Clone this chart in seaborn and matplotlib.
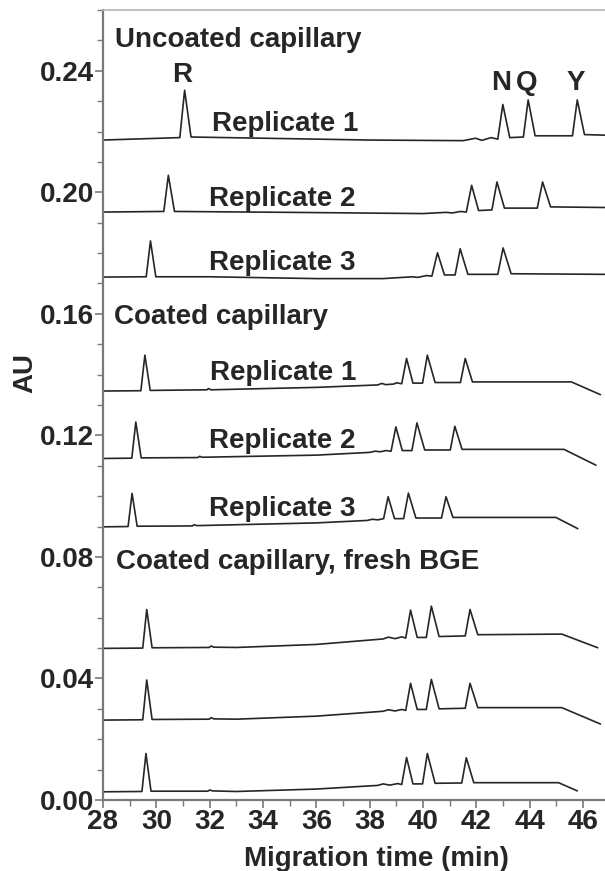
import numpy as np
import pandas as pd
import matplotlib
matplotlib.use("Agg")
import matplotlib.pyplot as plt
from matplotlib.ticker import MultipleLocator, FormatStrFormatter
import seaborn as sns

# ---------------- data ----------------
# Uncoated capillary, replicates 1-3
u1_t = [28.0, 30.88, 31.06, 31.30, 34.0, 38.0, 41.5, 41.97, 42.2, 42.55, 42.8, 42.99, 43.25, 43.76, 43.94, 44.2, 45.6, 45.78, 46.05, 46.82]
u1_v = [0.2172, 0.2180, 0.2336, 0.2182, 0.2178, 0.2172, 0.2170, 0.2178, 0.2171, 0.2180, 0.2175, 0.2289, 0.2180, 0.2182, 0.2304, 0.2186, 0.2186, 0.2304, 0.2190, 0.2188]

u2_t = [28.0, 30.28, 30.45, 30.68, 35.0, 40.0, 40.86, 41.1, 41.4, 41.62, 41.82, 42.08, 42.58, 42.77, 43.05, 44.28, 44.48, 44.78, 46.82]
u2_v = [0.1935, 0.1937, 0.2056, 0.1937, 0.1934, 0.1930, 0.1934, 0.1932, 0.1937, 0.1935, 0.2023, 0.1940, 0.1942, 0.2034, 0.1948, 0.1948, 0.2034, 0.1952, 0.1950]

u3_t = [28.0, 29.62, 29.78, 29.98, 32.0, 36.0, 38.5, 39.6, 39.8, 40.13, 40.33, 40.54, 40.8, 41.2, 41.39, 41.68, 42.8, 43.0, 43.3, 46.82]
u3_v = [0.1721, 0.1722, 0.1840, 0.1722, 0.1722, 0.1716, 0.1716, 0.1722, 0.1720, 0.1726, 0.1724, 0.1801, 0.1728, 0.1728, 0.1814, 0.1730, 0.1730, 0.1817, 0.1732, 0.1730]

# Coated capillary, replicates 1-3
c1_t = [28.0, 29.42, 29.57, 29.77, 31.9, 31.95, 32.05, 36.0, 38.3, 38.45, 38.6, 38.9, 39.0, 39.2, 39.38, 39.62, 39.98, 40.16, 40.45, 41.40, 41.58, 41.85, 45.56, 46.65]
c1_v = [0.1346, 0.1347, 0.1464, 0.1348, 0.1350, 0.1354, 0.1350, 0.1358, 0.1366, 0.1371, 0.1367, 0.1369, 0.1373, 0.1370, 0.1453, 0.1372, 0.1372, 0.1464, 0.1374, 0.1374, 0.1453, 0.1376, 0.1376, 0.1334]

c2_t = [28.0, 29.08, 29.23, 29.43, 31.55, 31.62, 31.72, 36.0, 38.0, 38.2, 38.4, 38.6, 38.8, 38.98, 39.22, 39.58, 39.77, 40.06, 41.02, 41.19, 41.46, 45.28, 46.48]
c2_v = [0.1124, 0.1125, 0.1244, 0.1126, 0.1127, 0.1131, 0.1128, 0.1135, 0.1144, 0.1148, 0.1146, 0.1150, 0.1148, 0.1228, 0.1150, 0.1150, 0.1241, 0.1152, 0.1152, 0.1230, 0.1154, 0.1154, 0.1102]

c3_t = [28.0, 28.94, 29.09, 29.28, 31.35, 31.42, 31.52, 36.0, 37.9, 38.1, 38.3, 38.52, 38.69, 38.93, 39.27, 39.45, 39.73, 40.69, 40.86, 41.12, 44.98, 45.8]
c3_v = [0.0899, 0.0900, 0.1009, 0.0901, 0.0902, 0.0906, 0.0903, 0.0912, 0.0920, 0.0924, 0.0922, 0.0926, 0.0998, 0.0926, 0.0926, 0.1010, 0.0928, 0.0928, 0.0998, 0.0930, 0.0930, 0.0893]

# Coated capillary, fresh BGE (three runs)
f1_t = [28.0, 29.49, 29.64, 29.84, 31.98, 32.06, 32.15, 33.0, 36.0, 38.5, 38.7, 38.95, 39.2, 39.35, 39.53, 39.78, 40.12, 40.31, 40.6, 41.58, 41.76, 42.05, 45.2, 46.55]
f1_v = [0.0499, 0.0500, 0.0627, 0.0501, 0.0502, 0.0507, 0.0503, 0.0502, 0.0512, 0.0530, 0.0536, 0.0531, 0.0537, 0.0533, 0.0625, 0.0535, 0.0535, 0.0638, 0.0538, 0.0540, 0.0627, 0.0544, 0.0546, 0.0501]

f2_t = [28.0, 29.49, 29.64, 29.84, 31.98, 32.06, 32.15, 33.0, 36.0, 38.5, 38.7, 38.95, 39.2, 39.35, 39.53, 39.78, 40.12, 40.31, 40.6, 41.58, 41.76, 42.05, 45.2, 46.65]
f2_v = [0.0263, 0.0264, 0.0395, 0.0265, 0.0266, 0.0271, 0.0267, 0.0266, 0.0276, 0.0292, 0.0297, 0.0293, 0.0298, 0.0295, 0.0384, 0.0298, 0.0298, 0.0397, 0.0300, 0.0302, 0.0384, 0.0304, 0.0304, 0.0250]

f3_t = [28.0, 29.46, 29.61, 29.80, 31.93, 32.0, 32.1, 33.0, 36.0, 38.3, 38.5, 38.75, 39.05, 39.2, 39.38, 39.62, 39.98, 40.16, 40.45, 41.45, 41.62, 41.9, 45.08, 45.78]
f3_v = [0.0027, 0.0028, 0.0153, 0.0029, 0.0029, 0.0033, 0.0030, 0.0028, 0.0036, 0.0048, 0.0053, 0.0049, 0.0054, 0.0051, 0.0140, 0.0053, 0.0053, 0.0153, 0.0055, 0.0056, 0.0139, 0.0057, 0.0057, 0.0030]

trace_names = ["U1", "U2", "U3", "C1", "C2", "C3", "F1", "F2", "F3"]
trace_times = [u1_t, u2_t, u3_t, c1_t, c2_t, c3_t, f1_t, f2_t, f3_t]
trace_vals = [u1_v, u2_v, u3_v, c1_v, c2_v, c3_v, f1_v, f2_v, f3_v]

# text labels
section_labels = ["Uncoated capillary", "Coated capillary", "Coated capillary, fresh BGE"]
section_x = [28.45, 28.40, 28.48]
section_y = [0.2478, 0.1568, 0.0759]

rep_labels = ["Replicate 1", "Replicate 2", "Replicate 3",
              "Replicate 1", "Replicate 2", "Replicate 3"]
rep_x = [32.07, 31.96, 31.96, 32.02, 31.97, 31.97]
rep_y = [0.2201, 0.1954, 0.1745, 0.1382, 0.1160, 0.0934]

peak_labels = ["R", "N", "Q", "Y"]
peak_x = [30.95, 42.92, 43.90, 45.74]
peak_y = [0.2363, 0.2336, 0.2336, 0.2336]

x_ticks = [28, 30, 32, 34, 36, 38, 40, 42, 44, 46]
y_ticks = [0.00, 0.04, 0.08, 0.12, 0.16, 0.20, 0.24]

# ---------------- figure ----------------
sns.set_style("white")
plt.rcParams["font.family"] = ["Liberation Sans", "DejaVu Sans"]
plt.rcParams["font.weight"] = "bold"

W, H = 605, 871
fig = plt.figure(figsize=(W / 100, H / 100), dpi=100)
ax = fig.add_axes([103 / W, 71 / H, (W - 103) / W, (800 - 10) / H])

frames = []
for name, t, v in zip(trace_names, trace_times, trace_vals):
    frames.append(pd.DataFrame({"trace": name, "time": t, "au": v}))
df = pd.concat(frames, ignore_index=True)

for name in trace_names:
    sub = df[df["trace"] == name]
    sns.lineplot(data=sub, x="time", y="au", ax=ax, sort=False, estimator=None,
                 color="#262626", linewidth=1.2)

ax.set_xlim(28, 46.82)
ax.set_ylim(0, 0.26)

ax.set_xticks(x_ticks)
ax.set_yticks(y_ticks)
ax.xaxis.set_minor_locator(MultipleLocator(1))
ax.yaxis.set_minor_locator(MultipleLocator(0.01))
ax.yaxis.set_major_formatter(FormatStrFormatter("%.2f"))

fs = 20
for lab in ax.get_xticklabels() + ax.get_yticklabels():
    lab.set_fontsize(fs)
    lab.set_fontweight("bold")

ax.tick_params(axis="both", which="major", direction="out", length=6, width=1.2,
               color="#7a7a7a", bottom=True, left=True)
ax.tick_params(axis="both", which="minor", direction="out", length=4, width=1.0,
               color="#7a7a7a", bottom=True, left=True)
ax.tick_params(axis="y", which="major", pad=0.5)
ax.tick_params(axis="x", which="major", pad=0.5)

for side in ["left", "bottom"]:
    ax.spines[side].set_color("#7a7a7a")
    ax.spines[side].set_linewidth(1.6)
ax.spines["top"].set_color("#b5b5b5")
ax.spines["top"].set_linewidth(1.2)
ax.spines["right"].set_visible(False)

ax.set_xlabel("Migration time (min)", fontsize=fs, fontweight="bold")
ax.set_ylabel("AU", fontsize=fs, fontweight="bold")
ax.xaxis.set_label_coords(0.544, -0.058)
ax.yaxis.set_label_coords(-0.128, 0.541)

for s, x, y in zip(section_labels, section_x, section_y):
    ax.text(x, y, s, ha="left", va="baseline", fontsize=fs, fontweight="bold")
for s, x, y in zip(rep_labels, rep_x, rep_y):
    ax.text(x, y, s, ha="left", va="baseline", fontsize=fs, fontweight="bold")
for s, x, y in zip(peak_labels, peak_x, peak_y):
    ax.text(x, y, s, ha="center", va="baseline", fontsize=fs, fontweight="bold")

fig.savefig("out.png", dpi=100)
